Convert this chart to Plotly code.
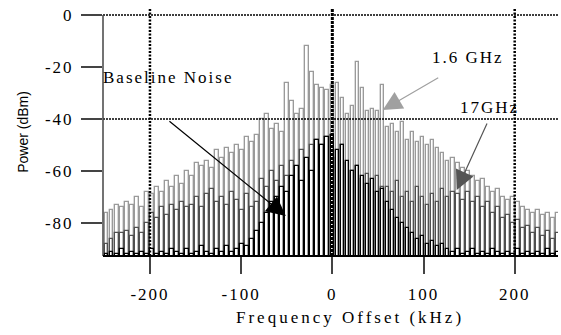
import numpy as np
import plotly.graph_objects as go

# Frequency bins (kHz)
freq = [round(-247.5 + 5.5 * i, 2) for i in range(91)]

# 1.6 GHz spectrum (dBm)
p_1p6 = [-76, -75, -73, -74, -72, -73, -70, -74, -68, -69,
         -66, -68, -64, -66, -62, -65, -60, -62, -57, -58,
         -56, -59, -52, -55, -51, -53, -50, -52, -47, -49,
         -46, -40, -38, -44, -42, -45, -26, -33, -38, -36,
         -12, -22, -27, -28, -29, -27, -26, -32, -38, -35,
         -18, -28, -37, -36, -37, -27, -43, -42, -45, -41,
         -48, -45, -49, -47, -50, -48, -51, -53, -56, -55,
         -57, -59, -60, -62, -64, -63, -66, -68, -67, -70,
         -71, -70, -72, -74, -75, -76, -75, -77, -76, -78, -76]

# 17 GHz spectrum (dBm)
p_17 = [-88, -86, -84, -84, -83, -85, -82, -84, -80, -76,
        -78, -74, -77, -73, -75, -72, -74, -73, -70, -74,
        -69, -67, -72, -70, -73, -68, -71, -75, -69, -74,
        -72, -63, -66, -60, -64, -58, -62, -56, -60, -52,
        -58, -50, -48, -50, -47, -46, -55, -50, -57, -60,
        -58, -63, -61, -65, -62, -66, -66, -68, -64, -70,
        -68, -72, -66, -70, -73, -69, -72, -67, -70, -68,
        -69, -71, -68, -72, -70, -74, -72, -76, -74, -78,
        -77, -80, -79, -82, -81, -84, -82, -85, -83, -86, -84]

# Baseline noise (dBm)
p_base = [-92, -91, -92, -90, -92, -91, -92, -91, -92, -90,
          -92, -91, -92, -90, -91, -92, -90, -92, -91, -89,
          -91, -92, -90, -91, -89, -91, -90, -88, -89, -86,
          -83, -80, -76, -72, -70, -66, -68, -62, -58, -64,
          -55, -60, -48, -50, -47, -46, -52, -50, -56, -60,
          -58, -62, -65, -63, -68, -67, -72, -75, -78, -80,
          -82, -84, -86, -85, -88, -87, -89, -88, -90, -91,
          -90, -92, -91, -90, -92, -91, -92, -90, -91, -92,
          -91, -92, -90, -92, -91, -92, -91, -92, -90, -92, -91]

y_ticks = [0, -20, -40, -60, -80]
x_ticks = [-200, -100, 0, 100, 200]

XR = [-251.5, 247.5]
YR = [-92.7, 2.7]
BASE = -95
BW = 4.0

serif = "Liberation Serif, Times New Roman, serif"

fig = go.Figure()
for vals, col in [(p_1p6, "#9a9a9a"), (p_17, "#505050"), (p_base, "#000000")]:
    fig.add_trace(go.Bar(
        x=freq, y=[v - BASE for v in vals], base=BASE, width=BW,
        marker=dict(color="white", line=dict(color=col, width=1.35)),
        showlegend=False, hoverinfo="skip"))

shapes = []
for yv in [0, -40]:
    shapes.append(dict(type="line", xref="paper", yref="y", x0=0, x1=1, y0=yv, y1=yv,
                       line=dict(color="black", width=1.3, dash="2px,1px"), layer="above"))
for xv in [-200, 200]:
    shapes.append(dict(type="line", xref="x", yref="paper", x0=xv, x1=xv, y0=0, y1=1,
                       line=dict(color="black", width=2.5, dash="2px,1.5px"), layer="above"))
shapes.append(dict(type="line", xref="x", yref="paper", x0=0, x1=0, y0=0, y1=1,
                   line=dict(color="black", width=3, dash="3px,1px"), layer="above"))
shapes.append(dict(type="line", xref="paper", yref="y", x0=0, x1=0, y0=0, y1=YR[0],
                   line=dict(color="#444444", width=1.5), layer="above"))
shapes.append(dict(type="line", xref="paper", yref="paper", x0=0, x1=1, y0=0, y1=0,
                   line=dict(color="black", width=2), layer="above"))

annotations = [
    dict(x=-238, y=-24, xref="x", yref="y", text="Baseline Noise", showarrow=False,
         xanchor="left", yanchor="middle", font=dict(family=serif, size=17, color="black")),
    dict(x=148.5, y=-16.2, xref="x", yref="y", text="1.6 GHz", showarrow=False,
         xanchor="center", yanchor="middle", font=dict(family=serif, size=17, color="black")),
    dict(x=172.5, y=-35.4, xref="x", yref="y", text="17GHz", showarrow=False,
         xanchor="center", yanchor="middle", font=dict(family=serif, size=17, color="black")),
    dict(x=0.543, y=-0.246, xref="paper", yref="paper", text="Frequency Offset (kHz)",
         showarrow=False, xanchor="center", yanchor="middle",
         font=dict(family=serif, size=17, color="black")),
    dict(x=-51, y=-77.3, ax=-180.3, ay=-40.4, xref="x", yref="y", axref="x", ayref="y",
         text="", showarrow=True, arrowhead=2, arrowsize=3.2, arrowwidth=1.2, arrowcolor="black"),
    dict(x=55.3, y=-36.5, ax=117.8, ay=-23.8, xref="x", yref="y", axref="x", ayref="y",
         text="", showarrow=True, arrowhead=2, arrowsize=3.2, arrowwidth=1.2, arrowcolor="#a0a0a0"),
    dict(x=136.4, y=-67.3, ax=170.4, ay=-41.2, xref="x", yref="y", axref="x", ayref="y",
         text="", showarrow=True, arrowhead=2, arrowsize=3.2, arrowwidth=1.2, arrowcolor="#555555"),
]

fig.update_layout(
    width=561, height=335,
    margin=dict(l=103, r=3, t=8, b=79),
    paper_bgcolor="white", plot_bgcolor="white",
    barmode="overlay", bargap=0,
    shapes=shapes, annotations=annotations,
    xaxis=dict(range=XR, tickmode="array", tickvals=x_ticks, ticktext=[str(v) for v in x_ticks],
               ticks="outside", ticklen=17, tickwidth=1.5, tickcolor="#444444",
               showgrid=False, zeroline=False, showline=False,
               tickfont=dict(family=serif, size=17, color="black"),
               ticklabelstandoff=6),
    yaxis=dict(range=YR, tickmode="array", tickvals=y_ticks, ticktext=[str(v) for v in y_ticks],
               ticks="outside", ticklen=21, tickwidth=1.5, tickcolor="#444444",
               showgrid=False, zeroline=False, showline=False,
               tickfont=dict(family=serif, size=17, color="black"),
               ticklabelstandoff=4,
               title=dict(text="Power (dBm)", standoff=19,
                          font=dict(family="Liberation Sans, Arial, sans-serif", size=14, color="black"))),
)

post = """
document.querySelectorAll('.xtick text, .ytick text').forEach(function(e){e.style.letterSpacing='2px';});
document.querySelectorAll('.annotation-text').forEach(function(e){
  e.style.letterSpacing = (e.textContent.indexOf('Frequency') === 0) ? '3px' : '2px';
});
"""
fig.write_html("out.html", post_script=post)
